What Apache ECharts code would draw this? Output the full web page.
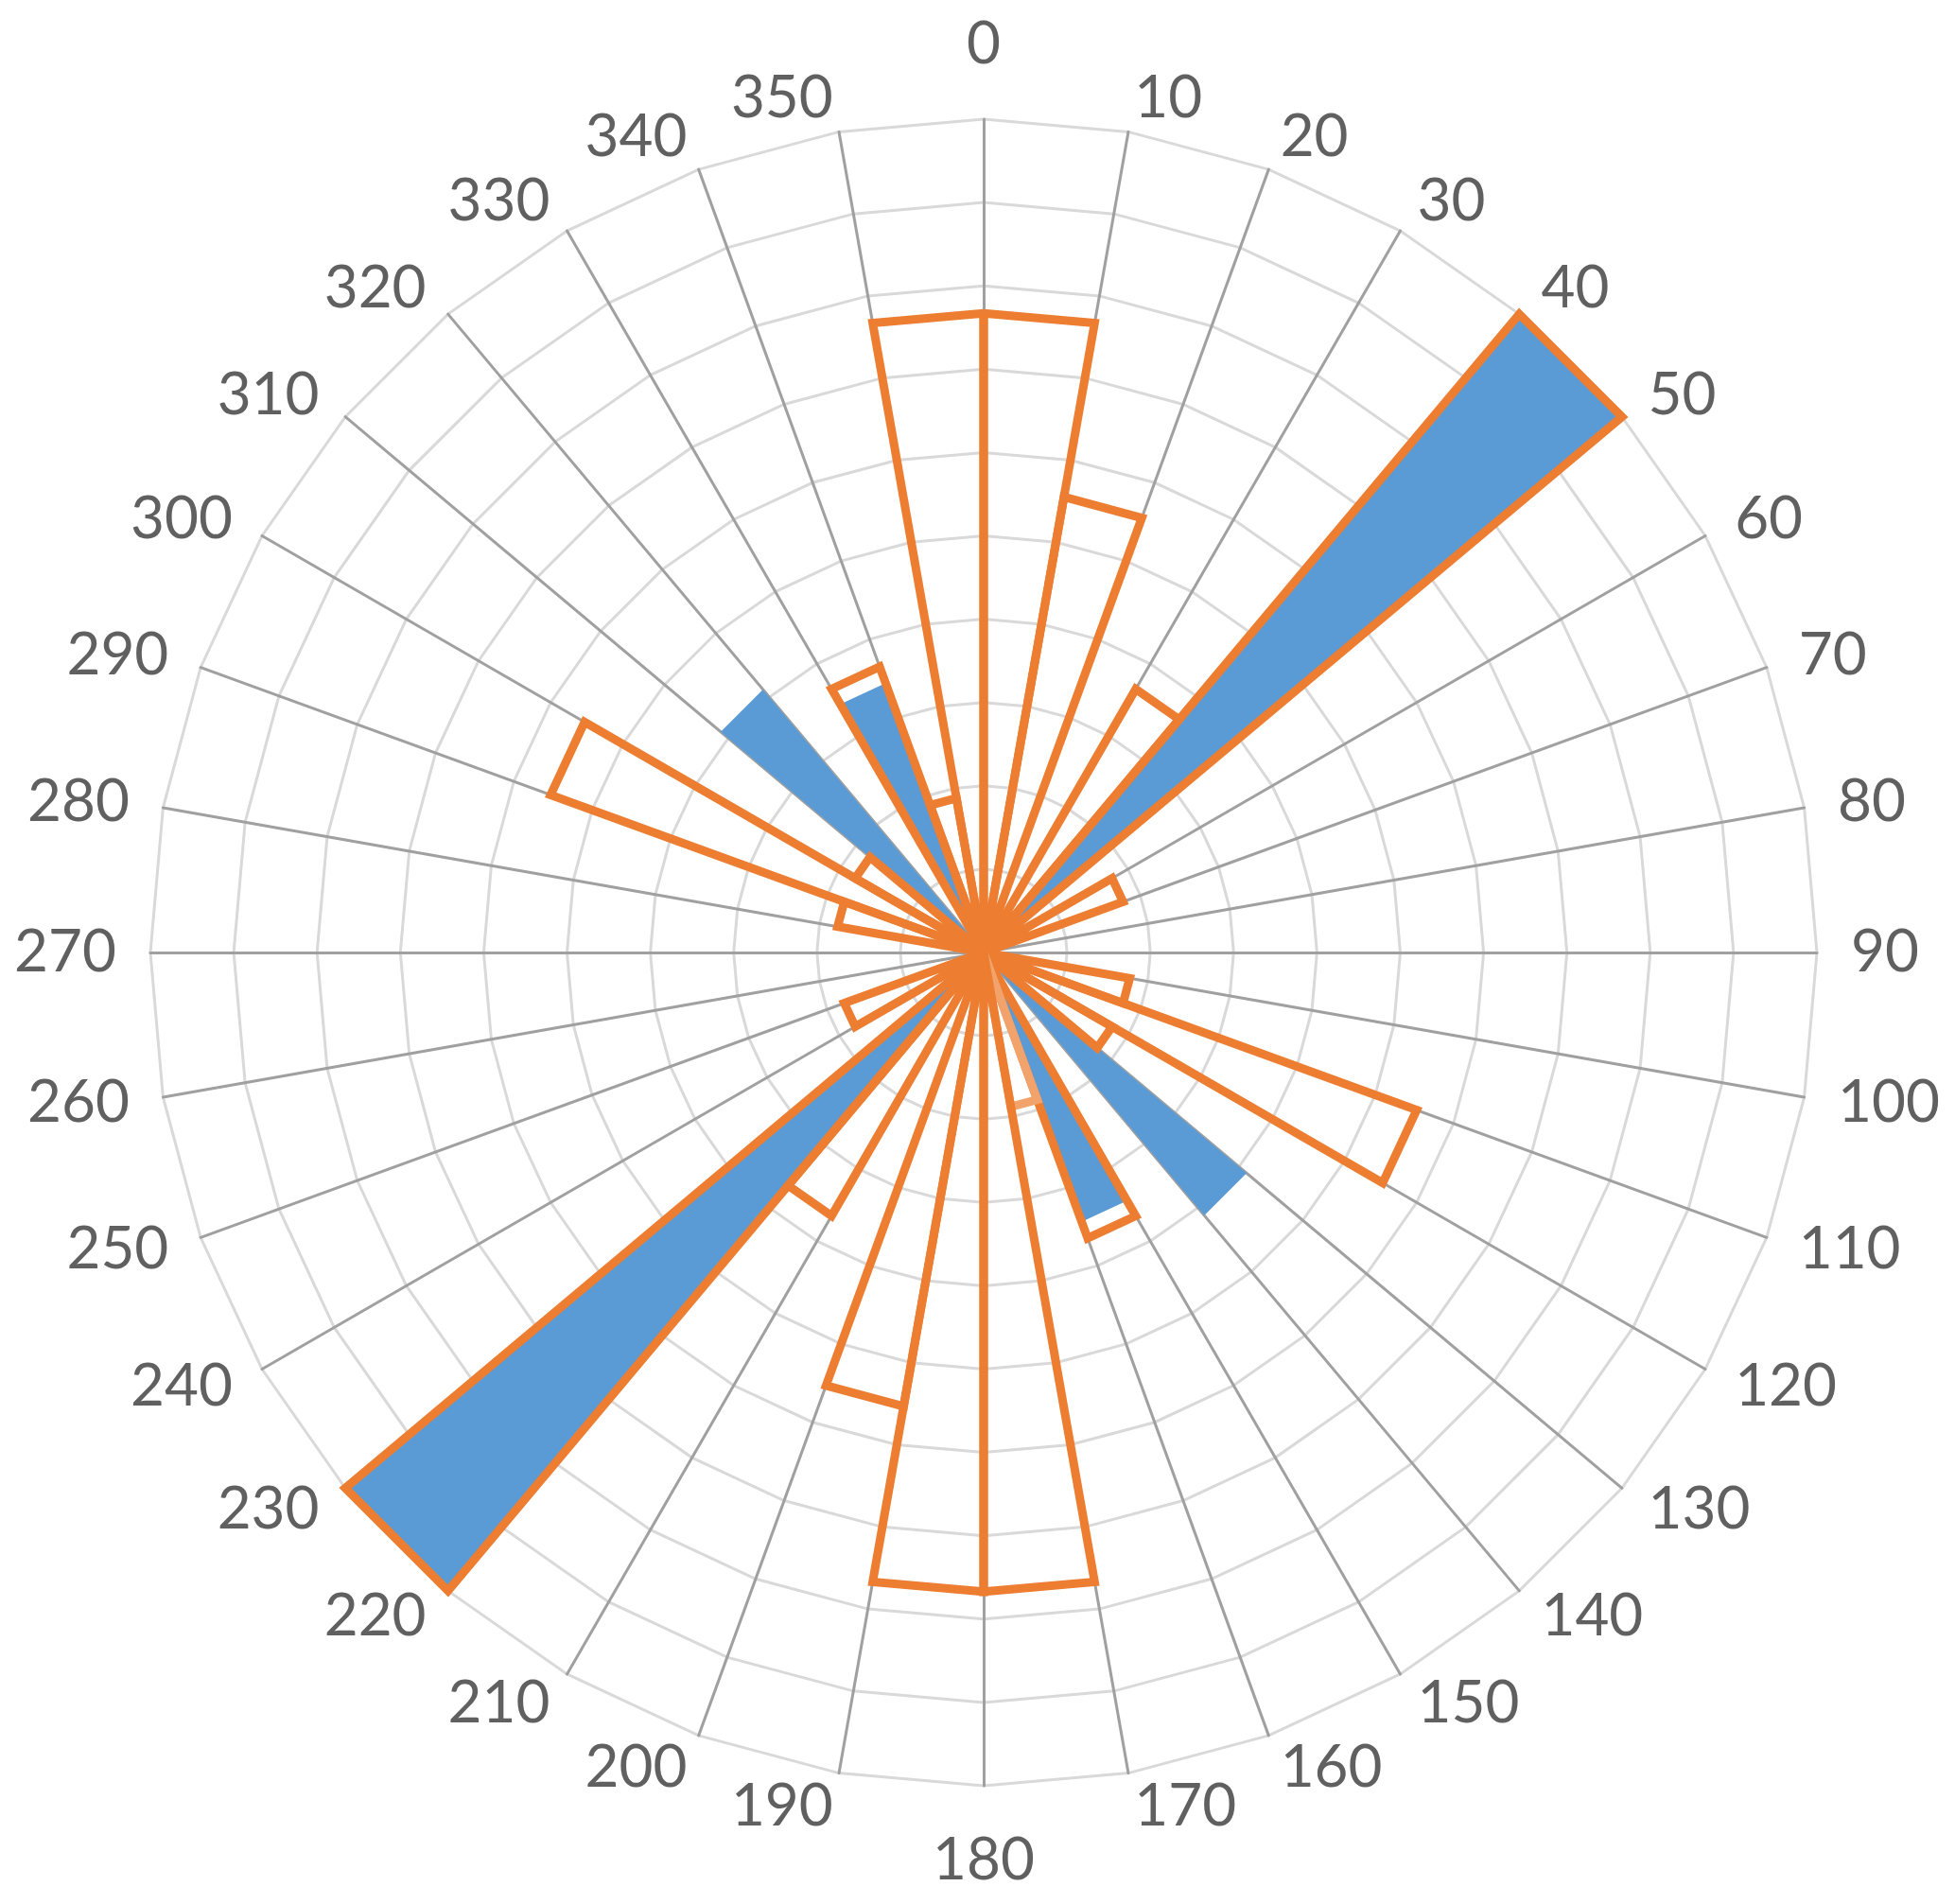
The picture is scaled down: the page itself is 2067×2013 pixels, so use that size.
<!DOCTYPE html>
<html lang="en">
<head>
    <meta charset="utf-8">
    <title>rose</title>
    <script src="https://cdn.jsdelivr.net/npm/echarts@6/dist/echarts.min.js"></script>
    <style type="text/css">
        html, body { margin: 0; padding: 0; background: #fff; }
        #container { width: 2067px; height: 2013px; }
    </style>
</head>
<body>
<div id="container"></div>
<script>
    // spoke labels (degrees), clockwise from the top
    var angleLabels = ['0','10','20','30','40','50','60','70','80','90','100','110',
        '120','130','140','150','160','170','180','190','200','210','220','230',
        '240','250','260','270','280','290','300','310','320','330','340','350'];
    // petal value for the sector starting at angleLabels[i] (i -> i+1)
    var orangeBins = [7.67, 5.55, 0, 3.65, 10, 0, 1.78, 0, 0, 0, 1.78, 5.53,
        1.78, 0, 0, 3.65, 1.88, 7.67, 7.67, 5.53, 0, 3.65, 10, 0,
        1.78, 0, 0, 0, 1.78, 5.53, 1.78, 0, 0, 3.65, 1.88, 7.67];
    var blueBins = [0, 0, 0, 0, 10, 0, 0, 0, 0, 0, 0, 0,
        0, 4.12, 0, 3.44, 0, 0, 0, 0, 0, 0, 10, 0,
        0, 0, 0, 0, 0, 0, 0, 4.12, 0, 3.44, 0, 0];
    var maxValue = 10;

    var n = angleLabels.length;
    // echarts goes counter-clockwise, so list spokes in reverse
    var order = angleLabels.map(function (_, j) { return (n - j) % n; });

    var indicator = order.map(function (k) {
        return { name: angleLabels[k], min: 0, max: maxValue };
    });

    function petal(bins, i) {
        var v = [];
        for (var k = 0; k < n; k++) v.push(0);
        v[i] = bins[i];
        v[(i + 1) % n] = bins[i];
        return order.map(function (k) { return v[k]; });
    }

    var orangeData = [];
    var blueData = [];
    for (var i = 0; i < n; i++) {
        if (orangeBins[i] > 0) {
            var item = { value: petal(orangeBins, i) };
            if (i === 16) {
                item.lineStyle = { color: '#f2a36c', width: 9 };
            }
            orangeData.push(item);
        }
        if (blueBins[i] > 0) {
            blueData.push({ value: petal(blueBins, i) });
        }
    }

    var dom = document.getElementById("container");
    var myChart = echarts.init(dom);
    var option = {
        animation: false,
        radar: {
            center: [1040, 1007],
            radius: 881,
            startAngle: 90,
            shape: 'polygon',
            splitNumber: 10,
            nameGap: 36,
            indicator: indicator,
            axisName: {
                color: '#606060',
                fontSize: 62,
                fontFamily: 'Lato',
                formatter: function (name) {
                    if (name === '0' || name === '180') return '{v|' + name + '}';
                    return name;
                },
                rich: {
                    v: { fontSize: 62, fontFamily: 'Lato', color: '#606060', padding: [12, 0, 12, 0] }
                }
            },
            splitLine: { lineStyle: { color: '#d9d9d9', width: 3 } },
            splitArea: { show: false },
            axisLine: { lineStyle: { color: '#a0a0a0', width: 3 } },
            axisTick: { show: false },
            axisLabel: { show: false }
        },
        series: [
            {
                name: 'blue',
                type: 'radar',
                symbol: 'none',
                silent: true,
                lineStyle: { width: 0, opacity: 0 },
                areaStyle: { color: '#5b9bd5', opacity: 1 },
                data: blueData
            },
            {
                name: 'orange',
                type: 'radar',
                symbol: 'none',
                silent: true,
                lineStyle: { color: '#ed7d31', width: 9, join: 'miter' },
                data: orangeData
            }
        ]
    };
    myChart.setOption(option, true);
</script>
</body>
</html>
